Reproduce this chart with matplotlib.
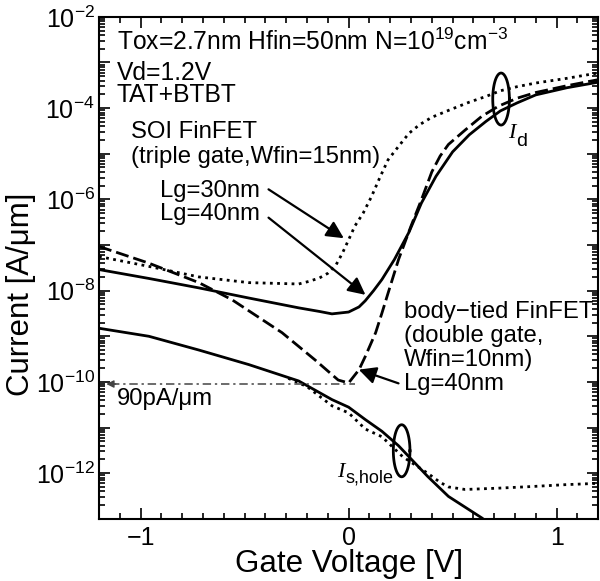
import numpy
from matplotlib import pyplot
from matplotlib.ticker import LogLocator, MultipleLocator, FuncFormatter

# gate voltage [V] and current [A/um]
soi30_vg = [-1.2, -0.96, -0.72, -0.48, -0.24, -0.19, -0.14, -0.10, -0.06, -0.03, 0.0, 0.03, 0.07, 0.11,
            0.15, 0.19, 0.24, 0.29, 0.34, 0.40, 0.49, 0.58, 0.66, 0.73, 0.81, 0.90, 1.05, 1.2]
soi30_id = [5.6e-8, 3.4e-8, 2.0e-8, 1.5e-8, 1.4e-8, 1.6e-8, 1.9e-8, 2.4e-8, 3.7e-8, 6.6e-8, 1.3e-7, 2.6e-7,
            5.0e-7, 1.15e-6, 3.0e-6, 7.4e-6, 1.45e-5, 2.8e-5, 4.3e-5, 6.3e-5, 9.3e-5, 1.35e-4, 1.8e-4,
            2.4e-4, 2.95e-4, 3.55e-4, 4.5e-4, 5.9e-4]

soi40_vg = [-1.2, -0.96, -0.72, -0.48, -0.24, -0.14, -0.08, 0.0, 0.05, 0.08, 0.12, 0.16, 0.22, 0.29, 0.35,
            0.42, 0.50, 0.58, 0.66, 0.73, 0.81, 0.90, 1.05, 1.2]
soi40_id = [2.9e-8, 1.85e-8, 1.15e-8, 6.9e-9, 4.2e-9, 3.5e-9, 3.1e-9, 3.4e-9, 4.4e-9, 6.0e-9, 1.0e-8,
            1.75e-8, 4.8e-8, 1.9e-7, 8.3e-7, 3.2e-6, 1.1e-5, 2.6e-5, 5.1e-5, 8.7e-5, 1.3e-4, 1.95e-4,
            2.8e-4, 3.7e-4]

body_vg = [-1.2, -0.96, -0.72, -0.56, -0.32, -0.16, -0.05, 0.0, 0.05, 0.08, 0.13, 0.16, 0.19, 0.24, 0.30,
           0.35, 0.40, 0.44, 0.48, 0.56, 0.64, 0.72, 0.81, 0.90, 1.05, 1.2]
body_id = [9.3e-8, 4.0e-8, 1.5e-8, 6.3e-9, 1.2e-9, 3.0e-10, 1.1e-10, 9.5e-11, 1.85e-10, 3.6e-10, 1.2e-9,
           3.2e-9, 8.9e-9, 4.8e-8, 2.6e-7, 9.8e-7, 4.0e-6, 8.9e-6, 1.6e-5, 3.3e-5, 6.6e-5, 1.1e-4,
           1.65e-4, 2.2e-4, 3.1e-4, 4.2e-4]

hole_solid_vg = [-1.2, -0.96, -0.72, -0.48, -0.24, -0.08, 0.0, 0.08, 0.16, 0.24, 0.29, 0.38, 0.48, 0.64, 0.70]
hole_solid_i = [1.5e-9, 1.0e-9, 5.0e-10, 2.4e-10, 1.05e-10, 4.1e-11, 2.8e-11, 1.5e-11, 8.3e-12, 4.0e-12,
                2.3e-12, 8.5e-13, 3.1e-13, 1.05e-13, 6.6e-14]

hole_dot_vg = [-0.29, -0.20, -0.08, 0.0, 0.08, 0.16, 0.26, 0.38, 0.44, 0.48, 0.56, 0.72, 0.88, 1.04, 1.2]
hole_dot_i = [1.2e-10, 7.9e-11, 3.0e-11, 2.1e-11, 9.3e-12, 6.3e-12, 2.3e-12, 1.0e-12, 6.3e-13, 5.0e-13,
              4.4e-13, 4.7e-13, 5.1e-13, 5.6e-13, 6.0e-13]

floor_current = 9.0e-11

pyplot.rcParams["font.family"] = ["Liberation Sans", "DejaVu Sans"]
pyplot.rcParams["mathtext.fontset"] = "custom"
pyplot.rcParams["mathtext.rm"] = "Liberation Sans"
pyplot.rcParams["mathtext.it"] = "Liberation Sans:italic"
pyplot.rcParams["mathtext.bf"] = "Liberation Sans:bold"

LW = 2.0
DOTTED = (0, (1.0, 1.6))
DASHED = (0, (4.7, 1.8))


def draw_ring(axis, v_center, i_center, half_v, half_dec):
    t = numpy.linspace(0, 2 * numpy.pi, 120)
    axis.plot(v_center + half_v * numpy.cos(t), i_center * 10 ** (half_dec * numpy.sin(t)), color="black", lw=LW)


def draw_arrow(axis, start, tip):
    axis.annotate("", xy=tip, xytext=start,
                  arrowprops=dict(arrowstyle="-|>", color="black", lw=1.6, mutation_scale=26, shrinkA=0, shrinkB=0))


def decade_label(v, pos):
    k = int(round(numpy.log10(v)))
    if k % 2:
        return ""
    return f"10$^{{{k}}}$"


figure = pyplot.figure(figsize=(6, 5.81), dpi=100)
axis = figure.add_axes([0.165, 0.107, 0.832, 0.864])

axis.plot(soi30_vg, soi30_id, color="black", lw=LW, linestyle=DOTTED)
axis.plot(soi40_vg, soi40_id, color="black", lw=LW)
axis.plot(body_vg, body_id, color="black", lw=LW, linestyle=DASHED)
axis.plot(hole_dot_vg, hole_dot_i, color="black", lw=LW, linestyle=DOTTED)
axis.plot(hole_solid_vg, hole_solid_i, color="black", lw=LW)

# 90 pA/um floor
axis.plot([-1.14, 0.03], [floor_current, floor_current], color="#444444", lw=1.1, linestyle=(0, (5.5, 2.5, 1.5, 2.5)))
axis.annotate("", xy=(-1.165, floor_current), xytext=(-1.12, floor_current),
              arrowprops=dict(arrowstyle="-|>", color="#444444", lw=1.0, mutation_scale=11, shrinkA=0, shrinkB=0))

draw_ring(axis, 0.733, 1.58e-4, 0.04, 0.57)
draw_ring(axis, 0.255, 3.1e-12, 0.04, 0.57)

draw_arrow(axis, (-0.385, 1.66e-6), (-0.023, 1.41e-7))
draw_arrow(axis, (-0.385, 3.98e-7), (0.081, 8.1e-9))
draw_arrow(axis, (0.240, 9.3e-11), (0.049, 1.86e-10))

fs = 17.2
axis.text(-1.114, 1.9e-3, "Tox=2.7nm Hfin=50nm N=10$^{19}$cm$^{-3}$", fontsize=17.7, va="baseline")
axis.text(-1.114, 4.2e-4, "Vd=1.2V", fontsize=17.7, va="baseline")
axis.text(-1.114, 1.38e-4, "TAT+BTBT", fontsize=17.7, va="baseline")
axis.text(-1.044, 2.24e-5, "SOI FinFET", fontsize=fs, va="baseline")
axis.text(-1.044, 6.3e-6, "(triple gate,Wfin=15nm)", fontsize=fs, va="baseline")
axis.text(-0.908, 1.15e-6, "Lg=30nm", fontsize=fs, va="baseline")
axis.text(-0.908, 3.55e-7, "Lg=40nm", fontsize=fs, va="baseline")
axis.text(0.264, 2.5e-9, "body\u2212tied FinFET", fontsize=fs, va="baseline")
axis.text(0.264, 7.6e-10, "(double gate,", fontsize=fs, va="baseline")
axis.text(0.264, 2.24e-10, "Wfin=10nm)", fontsize=fs, va="baseline")
axis.text(0.264, 6.8e-11, "Lg=40nm", fontsize=fs, va="baseline")
axis.text(-1.114, 3.16e-11, "90pA/\u03bcm", fontsize=fs, va="baseline")

axis.annotate("I", xy=(0.767, 2.24e-5), fontsize=16, family="Liberation Serif", style="italic", va="baseline")
axis.annotate("d", xy=(0.767, 2.24e-5), xytext=(6, -6), textcoords="offset points", fontsize=14, va="baseline")
axis.annotate("I", xy=(-0.056, 8.3e-13), fontsize=16, family="Liberation Serif", style="italic", va="baseline")
axis.annotate("s,hole", xy=(-0.056, 8.3e-13), xytext=(6.5, -4), textcoords="offset points", fontsize=13,
              va="baseline")

axis.set_yscale("log")
axis.set_xlim(-1.2, 1.2)
axis.set_ylim(1e-13, 1e-2)
axis.xaxis.set_major_locator(MultipleLocator(1.0))
axis.xaxis.set_minor_locator(MultipleLocator(0.1))
axis.yaxis.set_major_locator(LogLocator(base=10, numticks=30))
axis.yaxis.set_minor_locator(LogLocator(base=10, subs=numpy.arange(2, 10), numticks=200))
axis.yaxis.set_major_formatter(FuncFormatter(decade_label))
axis.tick_params(which="both", direction="in", top=True, right=True, width=1.2, labelsize=18)
axis.tick_params(which="major", length=8)
axis.tick_params(which="minor", length=4)
axis.tick_params(axis="y", pad=3)
axis.tick_params(axis="x", pad=5)
for spine in axis.spines.values():
    spine.set_linewidth(1.5)

axis.set_xlabel("Gate Voltage [V]", fontsize=22.5)
axis.set_ylabel("Current [A/\u03bcm]", fontsize=22.5)
axis.xaxis.set_label_coords(0.5, -0.06)
axis.yaxis.set_label_coords(-0.127, 0.447)

figure.savefig("out.png", dpi=100)
